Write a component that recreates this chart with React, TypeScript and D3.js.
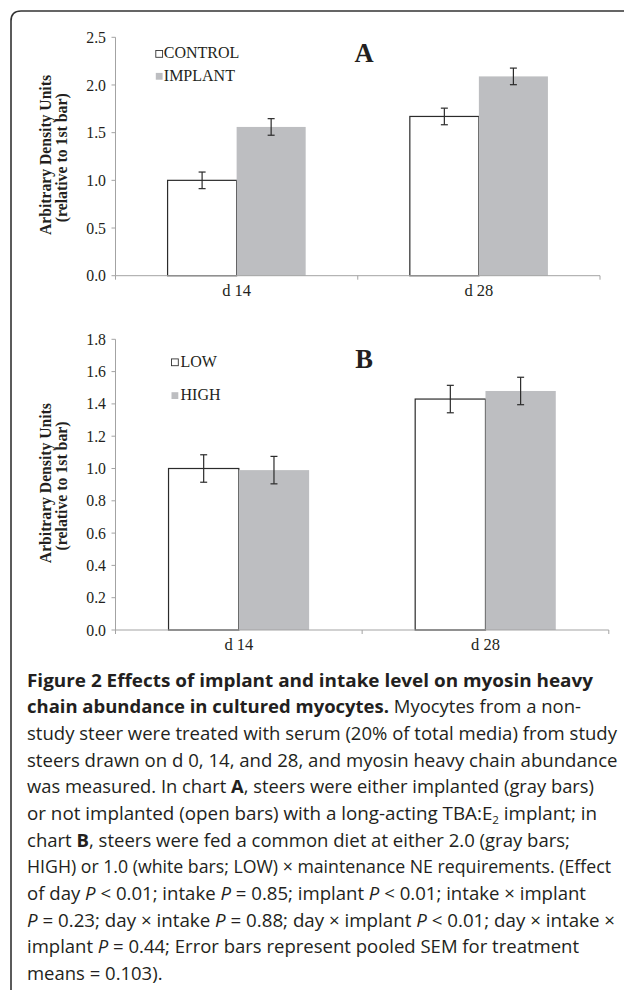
import * as d3 from "d3";

// categories
const days = ["d 14", "d 28"];

// chart A
const seriesA = ["CONTROL", "IMPLANT"];
const controlA = [1.0, 1.67];
const implantA = [1.56, 2.09];
const controlErrA = [0.087, 0.087];
const implantErrA = [0.087, 0.087];
const yTicksA = [0, 0.5, 1.0, 1.5, 2.0, 2.5];

// chart B
const seriesB = ["LOW", "HIGH"];
const lowB = [1.0, 1.43];
const highB = [0.99, 1.48];
const lowErrB = [0.085, 0.085];
const highErrB = [0.085, 0.085];
const yTicksB = [0, 0.2, 0.4, 0.6, 0.8, 1.0, 1.2, 1.4, 1.6, 1.8];

const serif = "'Liberation Serif', 'Times New Roman', serif";
const sans = "'Open Sans', 'Noto Sans', sans-serif";
const ink = "#231f20";
const axisGray = "#a3a3a3";
const barGray = "#bdbec1";

type Seg = { t: string; b?: boolean; i?: boolean; sub?: boolean };

// caption lines, each with its right edge in the figure
const caption: { segs: Seg[]; end: number }[] = [
  { segs: [{ t: "Figure 2 Effects of implant and intake level on myosin heavy", b: true }], end: 593 },
  { segs: [{ t: "chain abundance in cultured myocytes.", b: true }, { t: " Myocytes from a non-" }], end: 581 },
  { segs: [{ t: "study steer were treated with serum (20% of total media) from study" }], end: 617 },
  { segs: [{ t: "steers drawn on d 0, 14, and 28, and myosin heavy chain abundance" }], end: 617.5 },
  { segs: [{ t: "was measured. In chart " }, { t: "A", b: true }, { t: ", steers were either implanted (gray bars)" }], end: 594 },
  { segs: [{ t: "or not implanted (open bars) with a long-acting TBA:E" }, { t: "2", sub: true }, { t: " implant; in" }], end: 597 },
  { segs: [{ t: "chart " }, { t: "B", b: true }, { t: ", steers were fed a common diet at either 2.0 (gray bars;" }], end: 570 },
  { segs: [{ t: "HIGH) or 1.0 (white bars; LOW) \u00d7 maintenance NE requirements. (Effect" }], end: 611 },
  { segs: [{ t: "of day " }, { t: "P", i: true }, { t: " < 0.01; intake " }, { t: "P", i: true }, { t: " = 0.85; implant " }, { t: "P", i: true }, { t: " < 0.01; intake \u00d7 implant" }], end: 586 },
  { segs: [{ t: "P", i: true }, { t: " = 0.23; day \u00d7 intake " }, { t: "P", i: true }, { t: " = 0.88; day \u00d7 implant " }, { t: "P", i: true }, { t: " < 0.01; day \u00d7 intake \u00d7" }], end: 615 },
  { segs: [{ t: "implant " }, { t: "P", i: true }, { t: " = 0.44; Error bars represent pooled SEM for treatment" }], end: 579 },
  { segs: [{ t: "means = 0.103)." }], end: 162.5 },
];

type PanelProps = {
  top: number;
  bottom: number;
  right: number;
  yMax: number;
  yTicks: number[];
  series: string[];
  values: number[][];
  errs: number[][];
  letter: string;
  letterBase: number;
  legendX: number;
  legendTextX: number;
  legendBase: number[];
};

function Panel(p: PanelProps) {
  const left = 115.5;
  const y = d3.scaleLinear().domain([0, p.yMax]).range([p.bottom, p.top]);
  const x0 = d3.scaleBand().domain(days).range([left, p.right]).paddingInner(0.43).paddingOuter(0.215);
  const x1 = d3.scaleBand().domain(p.series).range([0, x0.bandwidth()]);
  const step = x0.step();
  const fmt = d3.format(".1f");
  const mid = (p.top + p.bottom) / 2;

  return (
    <g>
      {/* y axis */}
      <line x1={left} x2={left} y1={p.top} y2={p.bottom} stroke={axisGray} />
      {p.yTicks.map((t) => (
        <g key={t} transform={`translate(0,${y(t)})`}>
          <line x1={left - 4} x2={left} stroke={axisGray} />
          <text x={left - 9.5} dy="0.35em" textAnchor="end" fontFamily={serif} fontSize={15.8} fill={ink}>
            {fmt(t)}
          </text>
        </g>
      ))}
      <text transform={`translate(50.5,${mid - 1.5}) rotate(-90)`} textAnchor="middle" fontFamily={serif}
        fontWeight="bold" fontSize={16} fill={ink} textLength={160} lengthAdjust="spacingAndGlyphs">
        Arbitrary Density Units
      </text>
      <text transform={`translate(66.5,${mid + 1.3}) rotate(-90)`} textAnchor="middle" fontFamily={serif}
        fontWeight="bold" fontSize={16} fill={ink} textLength={129} lengthAdjust="spacingAndGlyphs">
        (relative to 1st bar)
      </text>

      {/* bars */}
      {days.map((d, i) =>
        p.series.map((s, k) => {
          const v = p.values[k][i];
          const e = p.errs[k][i];
          const bx = (x0(d) as number) + (x1(s) as number);
          const cx = bx + x1.bandwidth() / 2;
          return (
            <g key={d + s}>
              <rect x={bx} y={y(v)} width={x1.bandwidth()} height={p.bottom - y(v)}
                fill={k === 0 ? "#fff" : barGray} stroke={k === 0 ? "#2b2b2b" : "none"} strokeWidth={1.2} />
              <line x1={cx} x2={cx} y1={y(v + e)} y2={y(v - e)} stroke="#2b2b2b" strokeWidth={1.2} />
              <line x1={cx - 3.5} x2={cx + 3.5} y1={y(v + e)} y2={y(v + e)} stroke="#2b2b2b" strokeWidth={1.2} />
              <line x1={cx - 3.5} x2={cx + 3.5} y1={y(v - e)} y2={y(v - e)} stroke="#2b2b2b" strokeWidth={1.2} />
            </g>
          );
        })
      )}

      {/* x axis */}
      <line x1={left} x2={p.right} y1={p.bottom} y2={p.bottom} stroke={axisGray} />
      {d3.range(days.length + 1).map((i) => (
        <line key={i} x1={left + i * step} x2={left + i * step} y1={p.bottom} y2={p.bottom + 4} stroke={axisGray} />
      ))}
      {days.map((d) => (
        <text key={d} x={(x0(d) as number) + x0.bandwidth() / 2} y={p.bottom + 20} textAnchor="middle"
          fontFamily={serif} fontSize={16.5} fill={ink}>{d}</text>
      ))}

      {/* panel letter */}
      <text x={364} y={p.letterBase} textAnchor="middle" fontFamily={serif} fontWeight="bold" fontSize={26.5} fill={ink}>
        {p.letter}
      </text>

      {/* legend */}
      {p.series.map((s, k) => (
        <g key={s}>
          <rect x={p.legendX} y={p.legendBase[k] - 7.8} width={6.8} height={6.8}
            fill={k === 0 ? "#fff" : barGray} stroke={k === 0 ? "#333" : "none"} strokeWidth={0.9} />
          <text x={p.legendTextX} y={p.legendBase[k]} fontFamily={serif} fontSize={16} fill={ink}>{s}</text>
        </g>
      ))}
    </g>
  );
}

export default function App() {
  return (
    <svg width={624} height={990} style={{ position: "absolute", left: 0, top: 0, background: "#fff" }}>
      <rect width={624} height={990} fill="#fff" />
      <path d="M11,1000 L11,21 Q11,11 21,11 L630,11" fill="none" stroke="#333" strokeWidth={1.6} />

      <Panel top={37.3} bottom={275.7} right={600} yMax={2.5} yTicks={yTicksA} series={seriesA}
        values={[controlA, implantA]} errs={[controlErrA, implantErrA]} letter="A" letterBase={61.7}
        legendX={155.8} legendTextX={163.8} legendBase={[58.3, 80.7]} />
      <Panel top={339.3} bottom={630} right={608.8} yMax={1.8} yTicks={yTicksB} series={seriesB}
        values={[lowB, highB]} errs={[lowErrB, highErrB]} letter="B" letterBase={367.7}
        legendX={171.5} legendTextX={180.5} legendBase={[366.7, 400]} />

      {caption.map((line, li) => (
        <text key={li} x={27} y={686.5 + li * 26.67} fontFamily={sans} fontSize={17.8} fill={ink}
          textLength={line.end - 27} lengthAdjust="spacingAndGlyphs">
          {line.segs.map((s, si) => (
            <tspan key={si} fontWeight={s.b ? "bold" : undefined} fontStyle={s.i ? "italic" : undefined}
              fontSize={s.sub ? 11 : undefined} dy={s.sub ? 4 : si > 0 && line.segs[si - 1].sub ? -4 : undefined}>
              {s.t}
            </tspan>
          ))}
        </text>
      ))}
    </svg>
  );
}
